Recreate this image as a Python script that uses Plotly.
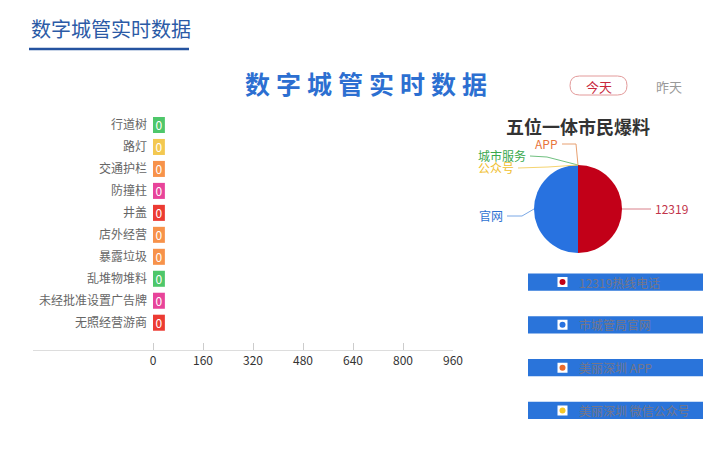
import math
import plotly.graph_objects as go

W, H = 723, 451
FONT = "Noto Sans CJK SC"

# ---------------- data ----------------
categories = ["行道树", "路灯", "交通护栏", "防撞柱", "井盖", "店外经营",
              "暴露垃圾", "乱堆物堆料", "未经批准设置广告牌", "无照经营游商"]
counts = [0, 0, 0, 0, 0, 0, 0, 0, 0, 0]
bar_colors = ["#4ec76a", "#f3c850", "#f7924a", "#e8449a", "#ec3b33",
              "#f7924a", "#f7924a", "#4ec76a", "#e8449a", "#ec3b33"]
x_ticks = [0, 160, 320, 480, 640, 800, 960]

pie_labels = ["12319", "官网", "APP", "城市服务", "公众号"]
pie_values = [1, 1, 0, 0, 0]
pie_colors = ["#c20018", "#2872e0", "#ec7a3c", "#3cb04e", "#f4c434"]
pie_label_colors = ["#c2334a", "#2e72d2", "#e8743b", "#3aa84c", "#f0c030"]
pie_line_colors = ["#d9808a", "#7aa8e6", "#e8a070", "#70c080", "#f5d470"]

legend_names = ["12319热线电话", "市城管局官网", "美丽深圳 APP", "美丽深圳 微信公众号"]
legend_dots = ["#c20018", "#2872e0", "#ec6a2c", "#f5c828"]

# ---------------- helpers ----------------
def px(x):
    return x / W

def py(y):
    return 1 - y / H

BAR_MIN_LEN = 38  # minimum visible bar length (like echarts barMinHeight)

fig = go.Figure()

# ---------------- bar chart ----------------
fig.add_trace(go.Bar(
    y=categories,
    x=[max(v, BAR_MIN_LEN) for v in counts],
    base=0,
    orientation="h",
    marker=dict(color=bar_colors, line=dict(width=0)),
    text=[str(v) for v in counts],
    textposition="inside",
    insidetextanchor="middle",
    textfont=dict(color="white", size=12, family=FONT),
    constraintext="none",
    xaxis="x", yaxis="y",
    hoverinfo="skip",
))

# ---------------- pie ----------------
PIE_CX, PIE_CY, PIE_R = 578, 209, 44
fig.add_trace(go.Pie(
    labels=pie_labels,
    values=pie_values,
    marker=dict(colors=pie_colors, line=dict(width=0)),
    textinfo="none",
    sort=False,
    direction="clockwise",
    rotation=0,
    showlegend=False,
    hoverinfo="skip",
    domain=dict(x=[px(PIE_CX - PIE_R), px(PIE_CX + PIE_R)],
                y=[py(PIE_CY + PIE_R), py(PIE_CY - PIE_R)]),
))

# ---------------- legend rows (hidden axes) ----------------
rows = list(range(len(legend_names)))
fig.add_trace(go.Scatter(
    x=[34.5] * len(rows), y=rows, mode="markers",
    marker=dict(symbol="square", size=10, color="white", line=dict(width=0)),
    xaxis="x3", yaxis="y3", hoverinfo="skip", showlegend=False,
))
fig.add_trace(go.Scatter(
    x=[34.5] * len(rows), y=rows, mode="markers",
    marker=dict(symbol="circle", size=6, color=legend_dots, line=dict(width=0)),
    xaxis="x3", yaxis="y3", hoverinfo="skip", showlegend=False,
))

shapes = []
annotations = []

for i, name in enumerate(legend_names):
    shapes.append(dict(type="rect", xref="x3 domain", yref="y3",
                       x0=0, x1=1, y0=i - 0.2, y1=i + 0.2,
                       fillcolor="#2a74da", line=dict(width=0), layer="below"))
    annotations.append(dict(xref="x3", yref="y3", x=49, y=i, text=name,
                            showarrow=False, xanchor="left", yanchor="middle",
                            font=dict(size=12, color="#767688", family=FONT)))

# pie labels with bent leader lines (elbow offset, end offset, text side)
label_layout = {
    "12319": ((14, 0), (29, 0), "left"),
    "官网": ((-12, 7), (-27, 7), "right"),
    "APP": ((-2, -21), (-16, -21), "right"),
    "城市服务": ((-31, -8), (-48, -9), "right"),
    "公众号": ((-30, 2), (-60, 3), "right"),
}
total = sum(pie_values)
cum = 0
for lab, val, col, lcol in zip(pie_labels, pie_values, pie_label_colors, pie_line_colors):
    mid = (cum + val / 2) / total
    cum += val
    theta = 2 * math.pi * mid
    ex = PIE_CX + PIE_R * math.sin(theta)
    ey = PIE_CY - PIE_R * math.cos(theta)
    (mx, my), (nx, ny), side = label_layout[lab]
    p1 = (ex + mx, ey + my)
    p2 = (ex + nx, ey + ny)
    shapes.append(dict(type="path", xref="paper", yref="paper",
                       path=f"M {px(ex)},{py(ey)} L {px(p1[0])},{py(p1[1])} L {px(p2[0])},{py(p2[1])}",
                       line=dict(color=lcol, width=1)))
    tx = p2[0] + (3 if side == "left" else -3)
    annotations.append(dict(xref="paper", yref="paper", x=px(tx), y=py(p2[1] - 1),
                            text=lab, showarrow=False, borderpad=0,
                            xanchor=side, yanchor="middle",
                            font=dict(size=12, color=col, family=FONT)))

# titles
annotations.append(dict(xref="paper", yref="paper", x=px(29), y=py(28),
                        text="数字城管实时数据", showarrow=False,
                        xanchor="left", yanchor="middle",
                        font=dict(size=20, color="#2b5aa6", family=FONT)))
annotations.append(dict(xref="paper", yref="paper", x=px(369), y=py(83),
                        text='<span style="letter-spacing:6px">数字城管实时数据</span>',
                        showarrow=False, xanchor="center", yanchor="middle",
                        font=dict(size=25, color="#2c6fd1", family=FONT, weight="bold")))
annotations.append(dict(xref="paper", yref="paper", x=px(578), y=py(126),
                        text="五位一体市民爆料", showarrow=False, borderpad=0,
                        xanchor="center", yanchor="middle",
                        font=dict(size=18, color="#333333", family=FONT, weight="bold")))
annotations.append(dict(xref="paper", yref="paper", x=px(599), y=py(86),
                        text="今天", showarrow=False, xanchor="center", yanchor="middle",
                        font=dict(size=13, color="#c8283c", family=FONT)))
annotations.append(dict(xref="paper", yref="paper", x=px(668.5), y=py(86),
                        text="昨天", showarrow=False, xanchor="center", yanchor="middle",
                        font=dict(size=13, color="#999999", family=FONT)))

# title underline
shapes.append(dict(type="line", xref="paper", yref="paper",
                   x0=px(29), x1=px(189), y0=py(49), y1=py(49),
                   line=dict(color="#2553a0", width=2.5)))

# pill button around 今天
bx0, bx1, by0, by1 = 570, 627, 76, 95
r = (by1 - by0) / 2
path = (f"M {px(bx0 + r)},{py(by0)} L {px(bx1 - r)},{py(by0)} "
        f"Q {px(bx1)},{py(by0)} {px(bx1)},{py(by0 + r)} "
        f"Q {px(bx1)},{py(by1)} {px(bx1 - r)},{py(by1)} "
        f"L {px(bx0 + r)},{py(by1)} "
        f"Q {px(bx0)},{py(by1)} {px(bx0)},{py(by0 + r)} "
        f"Q {px(bx0)},{py(by0)} {px(bx0 + r)},{py(by0)} Z")
shapes.append(dict(type="path", xref="paper", yref="paper", path=path,
                   line=dict(color="#e39a9a", width=1)))

# ---------------- layout ----------------
GRID_TOP, GRID_BOTTOM = 114, 350
band = 21.97
y_bottom_val = (GRID_BOTTOM - GRID_TOP) / band - 0.5

fig.update_layout(
    width=W, height=H, autosize=False,
    margin=dict(l=0, r=0, t=0, b=0, autoexpand=False),
    paper_bgcolor="white", plot_bgcolor="white",
    showlegend=False,
    bargap=0.27,
    font=dict(family=FONT),
    xaxis=dict(domain=[px(33), px(453)], range=[-384, 960],
               tickvals=x_ticks, ticktext=[str(t) for t in x_ticks],
               showgrid=False, zeroline=False,
               showline=True, linecolor="#dddddd", linewidth=1,
               ticks="inside", ticklen=7, tickcolor="#cccccc",
               tickfont=dict(size=12, color="#333333", family=FONT),
               anchor="y", fixedrange=True),
    yaxis=dict(domain=[py(GRID_BOTTOM), py(GRID_TOP)],
               type="category", categoryorder="array", categoryarray=categories,
               range=[y_bottom_val, -0.5],
               anchor="free", position=px(147),
               showgrid=False, zeroline=False, showline=False, ticks="",
               tickfont=dict(size=12, color="#666666", family=FONT),
               fixedrange=True),
    xaxis3=dict(domain=[px(528), px(703)], range=[0, 175], visible=False,
                anchor="y3", fixedrange=True),
    yaxis3=dict(domain=[py(431.8), py(260.7)], range=[3.5, -0.5], visible=False,
                anchor="x3", fixedrange=True),
    shapes=shapes,
    annotations=annotations,
)

fig.write_html("out.html", config={"responsive": False, "displayModeBar": False})
